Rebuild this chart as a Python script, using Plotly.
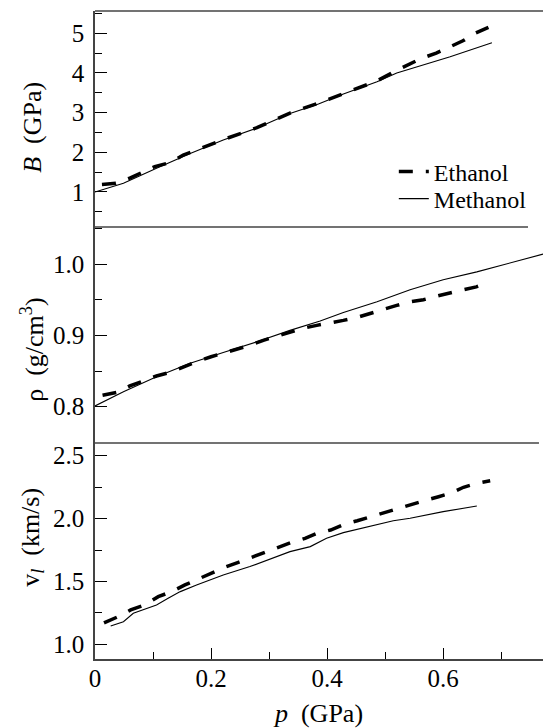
import plotly.graph_objects as go

# ---- data ----
# Bulk modulus B (GPa) vs pressure p (GPa)
p_B_meth = [0.0, 0.049, 0.106, 0.164, 0.221, 0.279, 0.336, 0.385, 0.428, 0.486, 0.52, 0.571, 0.612, 0.684]
B_meth   = [1.00, 1.22, 1.60, 1.97, 2.31, 2.61, 2.98, 3.22, 3.47, 3.78, 4.00, 4.22, 4.41, 4.76]
p_B_eth  = [0.012, 0.036, 0.06, 0.08, 0.103, 0.129, 0.152, 0.175, 0.221, 0.279, 0.336, 0.385, 0.428, 0.486, 0.52, 0.54, 0.563, 0.588, 0.612, 0.634, 0.655, 0.678]
B_eth    = [1.19, 1.22, 1.35, 1.48, 1.64, 1.74, 1.93, 2.06, 2.32, 2.62, 2.99, 3.24, 3.48, 3.80, 4.07, 4.22, 4.37, 4.50, 4.66, 4.81, 5.00, 5.15]

# Density rho (g/cm^3)
p_r_meth = [0.0, 0.049, 0.106, 0.164, 0.221, 0.279, 0.336, 0.388, 0.428, 0.486, 0.543, 0.6, 0.658, 0.716, 0.772]
r_meth   = [0.801, 0.821, 0.842, 0.861, 0.876, 0.891, 0.907, 0.920, 0.932, 0.947, 0.964, 0.978, 0.989, 1.002, 1.014]
p_r_eth  = [0.013, 0.037, 0.06, 0.083, 0.106, 0.129, 0.155, 0.175, 0.2, 0.22, 0.244, 0.267, 0.29, 0.313, 0.336, 0.359, 0.382, 0.405, 0.428, 0.451, 0.474, 0.497, 0.52, 0.543, 0.566, 0.589, 0.612, 0.635, 0.657, 0.678]
r_eth    = [0.816, 0.820, 0.829, 0.836, 0.843, 0.848, 0.857, 0.863, 0.870, 0.875, 0.880, 0.886, 0.893, 0.899, 0.905, 0.910, 0.914, 0.917, 0.921, 0.925, 0.931, 0.936, 0.942, 0.947, 0.950, 0.955, 0.960, 0.964, 0.968, 0.974]

# Longitudinal sound velocity v_l (km/s)
p_v_meth = [0.027, 0.049, 0.066, 0.106, 0.126, 0.147, 0.175, 0.221, 0.267, 0.313, 0.336, 0.371, 0.399, 0.428, 0.486, 0.514, 0.543, 0.6, 0.658]
v_meth   = [1.146, 1.18, 1.247, 1.313, 1.366, 1.419, 1.472, 1.552, 1.618, 1.697, 1.737, 1.777, 1.843, 1.888, 1.949, 1.983, 2.002, 2.055, 2.10]
p_v_eth  = [0.0155, 0.04, 0.0615, 0.086, 0.109, 0.132, 0.155, 0.176, 0.198, 0.222, 0.247, 0.27, 0.291, 0.316, 0.337, 0.362, 0.383, 0.406, 0.431, 0.452, 0.475, 0.498, 0.521, 0.544, 0.567, 0.592, 0.615, 0.635, 0.658, 0.681]
v_eth    = [1.17, 1.22, 1.273, 1.313, 1.379, 1.419, 1.472, 1.517, 1.565, 1.61, 1.652, 1.692, 1.732, 1.772, 1.808, 1.843, 1.883, 1.909, 1.957, 1.983, 2.015, 2.047, 2.082, 2.116, 2.142, 2.174, 2.206, 2.249, 2.281, 2.301]

x_ticks = [0, 0.2, 0.4, 0.6]
x_tick_labels = ["0", "0.2", "0.4", "0.6"]

FONT = "Liberation Serif"
eth_line = dict(color="black", width=3.5, dash="14px,13px")
meth_line = dict(color="black", width=1.1)

fig = go.Figure()
# top panel (B)
fig.add_trace(go.Scatter(x=p_B_eth, y=B_eth, mode="lines", line=eth_line, name="Ethanol",
                         xaxis="x", yaxis="y3", showlegend=True, legend="legend"))
fig.add_trace(go.Scatter(x=p_B_meth, y=B_meth, mode="lines", line=meth_line, name="Methanol",
                         xaxis="x", yaxis="y3", showlegend=True, legend="legend2"))
# middle panel (rho)
fig.add_trace(go.Scatter(x=p_r_eth, y=r_eth, mode="lines", line=eth_line, name="Ethanol",
                         xaxis="x", yaxis="y2", showlegend=False))
fig.add_trace(go.Scatter(x=p_r_meth, y=r_meth, mode="lines", line=meth_line, name="Methanol",
                         xaxis="x", yaxis="y2", showlegend=False))
# bottom panel (v_l)
fig.add_trace(go.Scatter(x=p_v_eth, y=v_eth, mode="lines", line=eth_line, name="Ethanol",
                         xaxis="x", yaxis="y", showlegend=False))
fig.add_trace(go.Scatter(x=p_v_meth, y=v_meth, mode="lines", line=meth_line, name="Methanol",
                         xaxis="x", yaxis="y", showlegend=False))

tickfont = dict(family=FONT, size=25, color="black")
minor_common = dict(ticks="inside", ticklen=7, tickwidth=1.2, tickcolor="black")
common_y = dict(showline=True, linecolor="#444", linewidth=1.5, ticks="inside", ticklen=12,
                tickwidth=1.2, tickcolor="black", showgrid=False, zeroline=False,
                tickfont=tickfont, anchor="x", ticklabelstandoff=4)
legend_common = dict(xanchor="left", yanchor="middle", bgcolor="rgba(0,0,0,0)",
                     font=dict(family=FONT, size=24, color="black"), itemwidth=30,
                     borderwidth=0, tracegroupgap=0)

fig.update_layout(
    width=543, height=728,
    margin=dict(l=95, r=0, t=11, b=69),
    paper_bgcolor="white", plot_bgcolor="white",
    showlegend=True,
    legend=dict(x=0.667, y=1 - (172 - 11) / 648, **legend_common),
    legend2=dict(x=0.667, y=1 - (199 - 11) / 648, **legend_common),
    xaxis=dict(domain=[0, 1], range=[0, 0.772], showline=True, linecolor="#444", linewidth=1.5,
               ticks="inside", ticklen=11, tickwidth=1.2, tickcolor="black",
               tickvals=x_ticks, ticktext=x_tick_labels, tickfont=tickfont,
               minor=dict(dtick=0.1, tick0=0, **minor_common),
               showgrid=False, zeroline=False, anchor="y", ticklabelstandoff=-4,
               title=dict(text="<i>p</i>  (GPa)", font=dict(family=FONT, size=26, color="black"), standoff=16)),
    yaxis=dict(domain=[0, 0.3333], range=[0.883, 2.601], tickvals=[1.0, 1.5, 2.0, 2.5],
               ticktext=["1.0", "1.5", "2.0", "2.5"],
               minor=dict(dtick=0.25, tick0=0, **minor_common), **common_y),
    yaxis2=dict(domain=[0.3333, 0.6667], range=[0.749, 1.052], tickvals=[0.8, 0.9, 1.0],
                ticktext=["0.8", "0.9", "1.0"],
                minor=dict(dtick=0.05, tick0=0, **minor_common), **common_y),
    yaxis3=dict(domain=[0.6667, 1], range=[0.118, 5.562], tickvals=[1, 2, 3, 4, 5],
                ticktext=["1", "2", "3", "4", "5"],
                minor=dict(dtick=0.5, tick0=0, **minor_common), **common_y),
)

# frame/separator lines
fig.add_shape(type="line", xref="paper", yref="paper", x0=0, x1=1, y0=1, y1=1,
              line=dict(color="#444", width=1.5))
fig.add_shape(type="line", xref="paper", yref="paper", x0=0, x1=0.9665, y0=0.6667, y1=0.6667,
              line=dict(color="#444", width=1.5))
fig.add_shape(type="line", xref="paper", yref="paper", x0=0, x1=0.991, y0=0.3333, y1=0.3333,
              line=dict(color="#444", width=1.5))

# y-axis titles
tfont = dict(family=FONT, size=26, color="black")
fig.add_annotation(text="<i>B</i>  (GPa)", xref="paper", yref="paper", x=-0.141, y=(1 - (127 - 11) / 648),
                   textangle=-90, showarrow=False, font=tfont, xanchor="center", yanchor="middle")
fig.add_annotation(text="ρ  (g/cm<sup>3</sup>)", xref="paper", yref="paper", x=-0.141, y=(1 - (350 - 11) / 648),
                   textangle=-90, showarrow=False, font=tfont, xanchor="center", yanchor="middle")
fig.add_annotation(text="v<sub><i>l</i></sub>  (km/s)", xref="paper", yref="paper", x=-0.141, y=(1 - (537 - 11) / 648),
                   textangle=-90, showarrow=False, font=tfont, xanchor="center", yanchor="middle")

fig.write_html("out.html", config={"displayModeBar": False},
               post_script="document.body.style.margin='0';")
